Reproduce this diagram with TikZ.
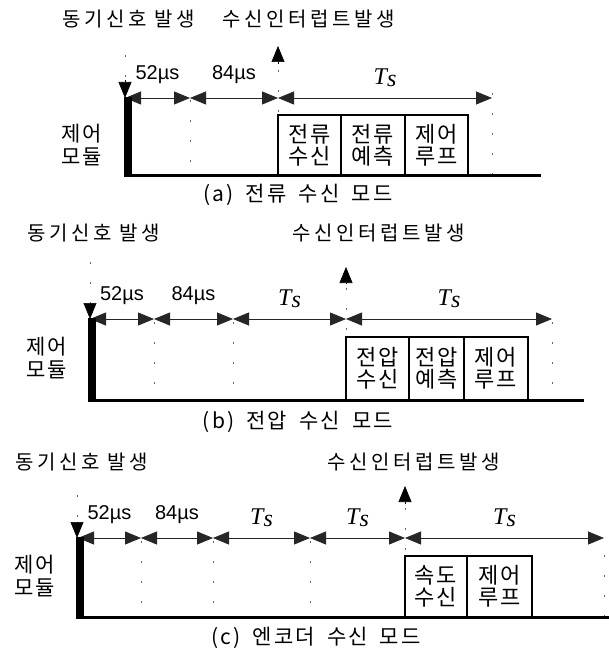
\documentclass[tikz,border=0pt]{standalone}
\usepackage{fontspec}
\setmainfont{Liberation Sans}
\newfontfamily\krfont[LetterSpace=18]{Noto Sans CJK KR}
\newfontfamily\krboxfont[LetterSpace=8]{Noto Sans CJK KR}
\newfontfamily\krcapfont[LetterSpace=10, WordSpace=1.8]{Noto Sans CJK KR}
\newfontfamily\tsfont{Liberation Serif}
\usetikzlibrary{arrows.meta}

\tikzset{
  tm-title/.style={font=\krfont\fontsize{20}{22}\selectfont, inner sep=0pt},
  tm-cap/.style={font=\krcapfont\fontsize{21}{22}\selectfont, inner sep=0pt},
  tm-side/.style={font=\krboxfont\fontsize{21}{23}\selectfont, inner sep=0pt, align=center},
  tm-time/.style={font=\fontsize{20}{22}\selectfont, inner sep=0pt},
  tm-ts/.style={font=\tsfont\itshape\fontsize{24}{26}\selectfont, inner sep=0pt},
  tm-dim/.style={{Triangle[length=16pt,width=13pt]}-{Triangle[length=16pt,width=13pt]}, line width=0.8pt, draw=black!85},
  tm-grid/.style={draw=black!60, line width=0.9pt, dash pattern=on 2pt off 18pt},
  tm-base/.style={line width=3pt},
  tm-bar/.style={line width=8pt},
  tm-mark/.style={-{Triangle[length=16pt,width=13pt]}, line width=0.6pt},
  tm-box/.style={draw, line width=2.5pt, outer sep=0pt, inner sep=0pt, align=center,
    font=\krboxfont\fontsize{22}{22}\selectfont},
}

\newcommand{\tstext}{T\raisebox{-2pt}{s}}

\begin{document}
\begin{tikzpicture}[x=1pt, y=-1pt]
    \useasboundingbox (0,0) rectangle (609,652);

    % (a) current receive mode
    \node[tm-title, anchor=west] (a-sync) at (62,19) {동기신호 발생};
    \node[tm-title, anchor=west] (a-int)  at (222,19) {수신인터럽트발생};
    \node[tm-side] (a-mod) at (82,145) {제어\\모듈};

    \coordinate (a0) at (125,98);
    \coordinate (a1) at (190,98);
    \coordinate (a2) at (278,98);
    \coordinate (a3) at (492,98);

    \draw[tm-grid] (125,55) -- (125,80);
    \draw[tm-grid] (190,100) -- (190,176);
    \draw[tm-grid] (278,70) -- (278,176);
    \draw[tm-grid] (492,93) -- (492,176);

    \node[tm-box, minimum width=63pt, minimum height=61pt] (a-rx)   at (309.5,145.5) {전류\\수신};
    \node[tm-box, minimum width=64pt, minimum height=61pt] (a-est)  at (373,145.5)   {전류\\예측};
    \node[tm-box, minimum width=63pt, minimum height=61pt] (a-loop) at (436.5,145.5) {제어\\루프};

    \draw[tm-dim] (a0) -- (a1) node[midway, above=14pt, tm-time] {52µs};
    \draw[tm-dim] (a1) -- (a2) node[midway, above=14pt, tm-time] {84µs};
    \draw[tm-dim] (a2) -- (a3) node[midway, above=11pt, tm-ts] {\tstext};

    \draw[tm-base] (124,176) -- (541,176);
    \draw[tm-bar] (128,97) -- (128,177.5);
    \draw[tm-mark] (125,80) -- (125,98);
    \draw[tm-mark] (278,64) -- (278,46);

    \node[tm-cap] (a-cap) at (298,195) {(a) 전류 수신 모드};

    % (b) voltage receive mode
    \node[tm-title, anchor=west] (b-sync) at (27,233) {동기신호 발생};
    \node[tm-title, anchor=west] (b-int)  at (292,233) {수신인터럽트발생};
    \node[tm-side] (b-mod) at (47,358) {제어\\모듈};

    \coordinate (b0) at (90,319);
    \coordinate (b1) at (154,319);
    \coordinate (b2) at (233,319);
    \coordinate (b3) at (346,319);
    \coordinate (b4) at (552,319);

    \draw[tm-grid] (90,262) -- (90,305);
    \draw[tm-grid] (154,322) -- (154,400);
    \draw[tm-grid] (233,322) -- (233,400);
    \draw[tm-grid] (346,288) -- (346,400);
    \draw[tm-grid] (552,322) -- (552,400);

    \node[tm-box, minimum width=63pt, minimum height=63pt] (b-rx)   at (377.5,368.5) {전압\\수신};
    \node[tm-box, minimum width=55pt, minimum height=63pt] (b-est)  at (436.5,368.5) {전압\\예측};
    \node[tm-box, minimum width=64pt, minimum height=63pt] (b-loop) at (496,368.5)   {제어\\루프};

    \draw[tm-dim] (b0) -- (b1) node[midway, above=14pt, tm-time] {52µs};
    \draw[tm-dim] (b1) -- (b2) node[midway, above=14pt, tm-time] {84µs};
    \draw[tm-dim] (b2) -- (b3) node[midway, above=11pt, tm-ts] {\tstext};
    \draw[tm-dim] (b3) -- (b4) node[midway, above=11pt, tm-ts] {\tstext};

    \draw[tm-base] (89,400) -- (584,400);
    \draw[tm-bar] (92,318) -- (92,401.5);
    \draw[tm-mark] (90,304) -- (90,319);
    \draw[tm-mark] (346,284) -- (346,267);

    \node[tm-cap] (b-cap) at (298,422) {(b) 전압 수신 모드};

    % (c) encoder receive mode
    \node[tm-title, anchor=west] (c-sync) at (15,462) {동기신호 발생};
    \node[tm-title, anchor=west] (c-int)  at (327,462) {수신인터럽트발생};
    \node[tm-side] (c-mod) at (35,576) {제어\\모듈};

    \coordinate (c0) at (78,538);
    \coordinate (c1) at (141,538);
    \coordinate (c2) at (213,538);
    \coordinate (c3) at (310,538);
    \coordinate (c4) at (405,538);
    \coordinate (c5) at (604,538);

    \draw[tm-grid] (77,495) -- (77,522);
    \draw[tm-grid] (141,541) -- (141,617);
    \draw[tm-grid] (213,541) -- (213,617);
    \draw[tm-grid] (310,541) -- (310,617);
    \draw[tm-grid] (405,508) -- (405,617);
    \draw[tm-grid] (604,555) -- (604,617);

    \node[tm-box, minimum width=62pt, minimum height=61pt] (c-rx)   at (436,586.5)   {속도\\수신};
    \node[tm-box, minimum width=65pt, minimum height=61pt] (c-loop) at (499.5,586.5) {제어\\루프};

    \draw[tm-dim] (c0) -- (c1) node[midway, above=14pt, tm-time] {52µs};
    \draw[tm-dim] (c1) -- (c2) node[midway, above=14pt, tm-time] {84µs};
    \draw[tm-dim] (c2) -- (c3) node[midway, above=11pt, tm-ts] {\tstext};
    \draw[tm-dim] (c3) -- (c4) node[midway, above=11pt, tm-ts] {\tstext};
    \draw[tm-dim] (c4) -- (c5) node[midway, above=11pt, tm-ts] {\tstext};

    \draw[tm-base] (76,617) -- (609,617);
    \draw[tm-bar] (80,537) -- (80,618.5);
    \draw[tm-mark] (77,522) -- (77,538);
    \draw[tm-mark] (405,504) -- (405,486);

    \node[tm-cap] (c-cap) at (316,638) {(c) 엔코더 수신 모드};

\end{tikzpicture}
\end{document}
